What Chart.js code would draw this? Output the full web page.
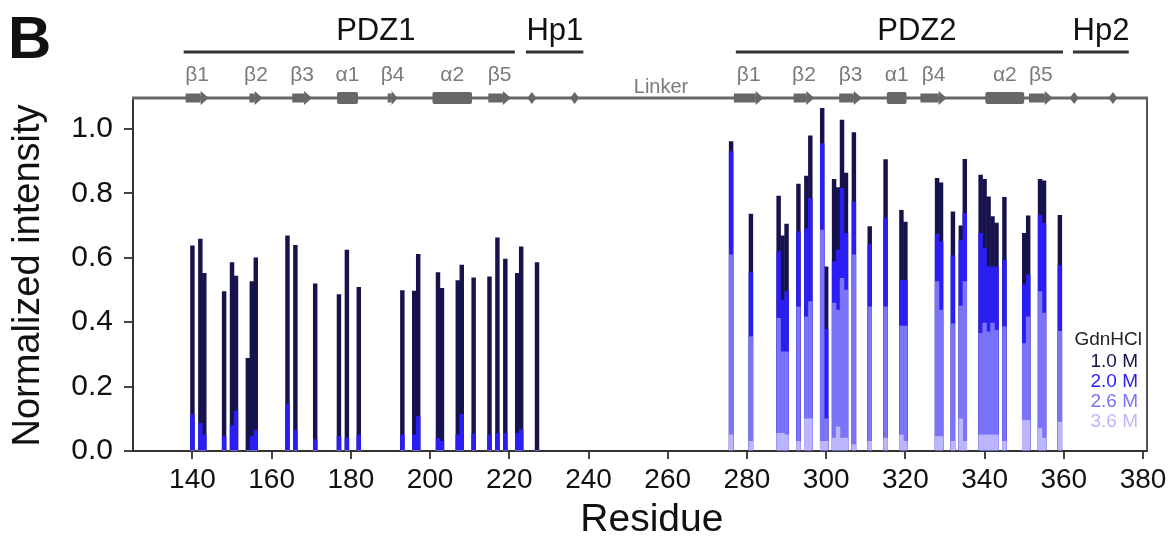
<!DOCTYPE html>
<html>
<head>
<meta charset="utf-8">
<script src="https://cdn.jsdelivr.net/npm/chart.js@4.4.1/dist/chart.umd.min.js"></script>
<style>
  html, body { margin: 0; padding: 0; background: #fff; }
</style>
</head>
<body>
<canvas id="chart" width="1176" height="539"></canvas>
<script>
// --- data ---
const residues = [140,142,143,148,150,151,154,155,156,164,166,171,177,179,182,193,196,197,202,203,207,208,211,215,217,219,222,223,227,
                  276,281,288,289,290,293,295,296,299,300,302,303,304,305,307,311,315,319,320,328,329,332,334,335,339,340,341,342,343,345,350,351,354,355,359];

const int10 = [.637,.658,.552,.495,.585,.543,.288,.526,.600,.668,.639,.519,.486,.624,.508,.498,.497,.611,.554,.505,.529,.577,.538,.541,.662,.596,.552,.634,.585,
               .961,.736,.792,.668,.705,.829,.854,.979,1.064,.572,.844,.818,1.028,.863,.989,.697,.905,.747,.711,.847,.833,.743,.699,.906,.857,.844,.789,.728,.708,.788,.676,.730,.844,.839,.732];
const int20 = [.114,.086,.050,.045,.079,.124,0,.045,.065,.145,.065,.035,.045,.040,.050,.050,.050,.107,.040,.030,.050,.114,.053,.050,.055,.055,.055,.066,0,
               .930,.555,.619,.469,.495,.681,.690,.785,.955,.378,.588,.624,.816,.676,.774,.641,.723,.530,.530,.674,.650,.606,.654,.738,.676,.630,.572,.572,.572,.593,.516,.547,.733,.707,.575];
const int26 = [0,0,0,0,0,0,0,0,0,0,0,0,0,0,0,0,0,0,0,0,0,0,0,0,0,0,0,0,0,
               .609,.355,.412,.308,.308,.448,.417,.464,.686,.100,.459,.438,.536,.500,.609,.448,.448,.388,.388,.526,.438,.395,.450,.526,.365,.397,.370,.397,.375,.386,.334,.417,.495,.428,.372];
const int36 = [0,0,0,0,0,0,0,0,0,0,0,0,0,0,0,0,0,0,0,0,0,0,0,0,0,0,0,0,0,
               .050,.030,.055,.055,.050,.030,.100,.100,.030,.030,.040,.075,.040,.040,.020,.030,.040,.050,.030,.045,.045,.030,.100,.030,.050,.050,.050,.050,.050,.030,.095,.095,.070,.040,.090];

const seriesLabels = ['1.0 M', '2.0 M', '2.6 M', '3.6 M'];
const seriesColors = ['#16124c', '#2b1ef5', '#7b73f8', '#bcb6fc'];

const xTicks = [140,160,180,200,220,240,260,280,300,320,340,360,380];
const yTicks = [0, 0.2, 0.4, 0.6, 0.8, 1.0];

// domain bars above the plot
const domainNames = ['PDZ1', 'Hp1', 'PDZ2', 'Hp2'];
const domainStart = [137.8, 224.2, 277.2, 362.3];
const domainEnd   = [221.4, 238.7, 359.8, 376.4];
const domainLabelAt = [186.3, 231.5, 322.9, 369.4];

// secondary structure elements (E = strand, H = helix)
const ssNames = ['β1','β2','β3','α1','β4','α2','β5','β1','β2','β3','α1','β4','α2','β5'];
const ssType  = ['E','E','E','H','E','H','E','E','E','E','H','E','H','E'];
const ssStart = [138.3,154.4,165.2,176.5,189.3,200.6,214.7,276.7,291.8,303.3,315.3,323.8,340.2,351.2];
const ssEnd   = [144.1,157.7,170.2,181.8,191.8,210.6,220.4,284.2,297.0,309.0,320.3,330.4,350.0,357.2];
const hpSites = [225.7, 236.5, 362.6, 372.4];
const linkerAt = 258.3;
const xTitleAt = 256;

const FONT = "'Liberation Sans', Arial, sans-serif";
Chart.defaults.font.family = FONT;

function makeSet(label, vals, color, order) {
    return {
        label: label,
        data: residues.map((r, i) => ({ x: r, y: vals[i] })),
        backgroundColor: color,
        borderWidth: 0,
        barThickness: 3.8,
        grouped: false,
        order: order
    };
}

// ==========================================
// annotations: frame, domain bars, secondary structure, legend
// ==========================================
const annotPlugin = {
    id: 'annot',
    afterDatasetsDraw(chart) {
        const ctx = chart.ctx;
        const xs = chart.scales.x;
        const area = chart.chartArea;
        const px = v => xs.getPixelForValue(v);
        const gray = '#676767';
        ctx.save();

        // right frame
        ctx.strokeStyle = '#555';
        ctx.lineWidth = 2;
        ctx.beginPath();
        ctx.moveTo(area.right, area.top - 2);
        ctx.lineTo(area.right, area.bottom);
        ctx.stroke();

        // top line = sequence line
        const yLine = area.top - 2;
        ctx.strokeStyle = gray;
        ctx.lineWidth = 3;
        ctx.beginPath();
        ctx.moveTo(area.left - 1, yLine);
        ctx.lineTo(area.right + 1, yLine);
        ctx.stroke();

        ctx.fillStyle = gray;
        ssNames.forEach((n, i) => {
            const x1 = px(ssStart[i]), x2 = px(ssEnd[i]);
            if (ssType[i] === 'H') {
                ctx.beginPath();
                ctx.roundRect(x1, yLine - 6, x2 - x1, 12, 2);
                ctx.fill();
            } else {
                const head = Math.min(8, (x2 - x1) * 0.6);
                ctx.beginPath();
                ctx.rect(x1, yLine - 4.5, x2 - x1 - head, 9);
                ctx.fill();
                ctx.beginPath();
                ctx.moveTo(x2 - head, yLine - 7);
                ctx.lineTo(x2, yLine);
                ctx.lineTo(x2 - head, yLine + 7);
                ctx.closePath();
                ctx.fill();
            }
        });
        hpSites.forEach(h => {
            const x = px(h);
            ctx.beginPath();
            ctx.moveTo(x, yLine - 6);
            ctx.lineTo(x + 4.5, yLine);
            ctx.lineTo(x, yLine + 6);
            ctx.lineTo(x - 4.5, yLine);
            ctx.closePath();
            ctx.fill();
        });

        // secondary structure labels
        ctx.fillStyle = '#7a7a7a';
        ctx.font = '21px ' + FONT;
        ctx.textAlign = 'center';
        ctx.textBaseline = 'middle';
        ssNames.forEach((n, i) => ctx.fillText(n, px((ssStart[i] + ssEnd[i]) / 2), 75));
        ctx.font = '20px ' + FONT;
        ctx.fillText('Linker', px(linkerAt), 87);

        // domain bars
        ctx.strokeStyle = '#333';
        ctx.lineWidth = 3;
        domainNames.forEach((d, i) => {
            ctx.beginPath();
            ctx.moveTo(px(domainStart[i]), 52);
            ctx.lineTo(px(domainEnd[i]), 52);
            ctx.stroke();
        });
        ctx.fillStyle = '#111';
        ctx.font = '31px ' + FONT;
        domainNames.forEach((d, i) => ctx.fillText(d, px(domainLabelAt[i]), 31));

        // x axis title
        ctx.font = '39px ' + FONT;
        ctx.fillText('Residue', px(xTitleAt), 520);

        // panel letter
        ctx.textAlign = 'left';
        ctx.font = 'bold 60px ' + FONT;
        ctx.fillText('B', 8, 41);

        // legend
        ctx.textAlign = 'right';
        ctx.font = '19px ' + FONT;
        ctx.fillStyle = '#222';
        ctx.fillText('GdnHCl', 1142, 340);
        seriesLabels.forEach((s, i) => {
            ctx.fillStyle = seriesColors[i];
            ctx.fillText(s, 1138, 362 + i * 20);
        });
        ctx.restore();
    }
};

const chart = new Chart(document.getElementById('chart'), {
    type: 'bar',
    data: {
        datasets: [
            makeSet(seriesLabels[0], int10, seriesColors[0], 4),
            makeSet(seriesLabels[1], int20, seriesColors[1], 3),
            makeSet(seriesLabels[2], int26, seriesColors[2], 2),
            makeSet(seriesLabels[3], int36, seriesColors[3], 1)
        ]
    },
    options: {
        responsive: false,
        animation: false,
        devicePixelRatio: 1,
        layout: { padding: { top: 100, right: 29, left: 0, bottom: 0 } },
        plugins: { legend: { display: false }, tooltip: { enabled: false } },
        scales: {
            x: {
                type: 'linear',
                min: 125,
                max: 381,
                offset: false,
                afterBuildTicks: s => { s.ticks = xTicks.map(v => ({ value: v })); },
                afterFit: s => { s.height = 88; },
                ticks: { font: { size: 28 }, color: '#111', padding: 4, maxRotation: 0, autoSkip: false },
                grid: { offset: false, drawOnChartArea: false, drawTicks: true, tickLength: 8, color: '#444', lineWidth: 2 },
                border: { color: '#333', width: 2 },
                title: { display: false }
            },
            y: {
                min: 0,
                max: 1.09,
                afterBuildTicks: s => { s.ticks = yTicks.map(v => ({ value: v })); },
                afterFit: s => { s.width = 133; },
                ticks: { font: { size: 30 }, color: '#111', padding: 11, callback: v => v.toFixed(1) },
                grid: { offset: false, drawOnChartArea: false, drawTicks: true, tickLength: 9, color: '#444', lineWidth: 2 },
                border: { color: '#333', width: 2 },
                title: { display: true, text: 'Normalized intensity', color: '#111', font: { size: 38, lineHeight: 1 }, padding: { top: 10, bottom: 0 } }
            }
        }
    },
    plugins: [annotPlugin]
});
</script>
</body>
</html>
